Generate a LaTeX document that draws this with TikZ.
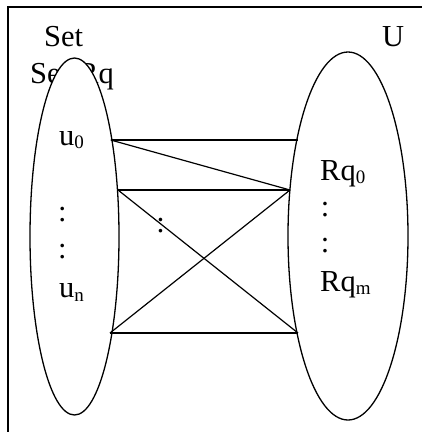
\documentclass[tikz,border=0pt]{standalone}
\usepackage{fontspec}
\setmainfont{Liberation Serif}
\usetikzlibrary{shapes.geometric}
\newcommand{\mysub}[1]{\raisebox{-3.5pt}{\fontsize{19}{19}\selectfont #1}}
\begin{document}
\begin{tikzpicture}[x=1pt,y=-1pt,
  lbl/.style={anchor=base west,inner sep=0pt,font=\fontsize{30.5}{36}\selectfont},
  dots/.style={anchor=base,inner sep=0pt,font=\fontsize{30.5}{36}\selectfont},
  set/.style={draw,fill=white,ellipse,line width=1.3pt,inner sep=0pt},
  link/.style={line width=1.2pt}]
\useasboundingbox (0,0) rectangle (422,432);
\clip (0,0) rectangle (422,432);
\draw[line width=1.3pt] (8,7) rectangle (440,450);
% labels behind the sets
\node[lbl] (tset) at (44,46.7) {Set};
\node[lbl] (tsetrq) at (30,83) {Set\hspace{9pt}Rq};
\node[lbl] (tu) at (382,46.7) {U};
% sets
\node[set,minimum width=89pt,minimum height=357pt] (L) at (74.5,236.5) {};
\node[set,minimum width=120pt,minimum height=368pt] (R) at (348,236) {};
% labels inside
\node[lbl] (u0) at (59,145) {u\mysub{0}};
\node[lbl] (un) at (59,297.7) {u\mysub{n}};
\node[lbl] (rq0) at (320,180) {Rq\mysub{0}};
\node[lbl] (rqm) at (320,291) {Rq\mysub{m}};
\node[dots] (d1) at (62.3,221) {:};
\node[dots] (d2) at (62.3,258) {:};
\node[dots] (d3) at (160.7,232) {:};
\node[dots] (d4) at (325,216.5) {:};
\node[dots] (d5) at (325,252) {:};
% attachment points
\coordinate (a1) at (110.7,140);
\coordinate (a2) at (118,190);
\coordinate (a3) at (110,333);
\coordinate (b1) at (297.7,140);
\coordinate (b2) at (290,190);
\coordinate (b3) at (298,333);
% links
\draw[link] (a1) -- (b1);
\draw[link] (a1) -- (b2);
\draw[link] (a2) -- (b2);
\draw[link] (a2) -- (b3);
\draw[link] (a3) -- (b2);
\draw[link] (a3) -- (b3);
\end{tikzpicture}
\end{document}
